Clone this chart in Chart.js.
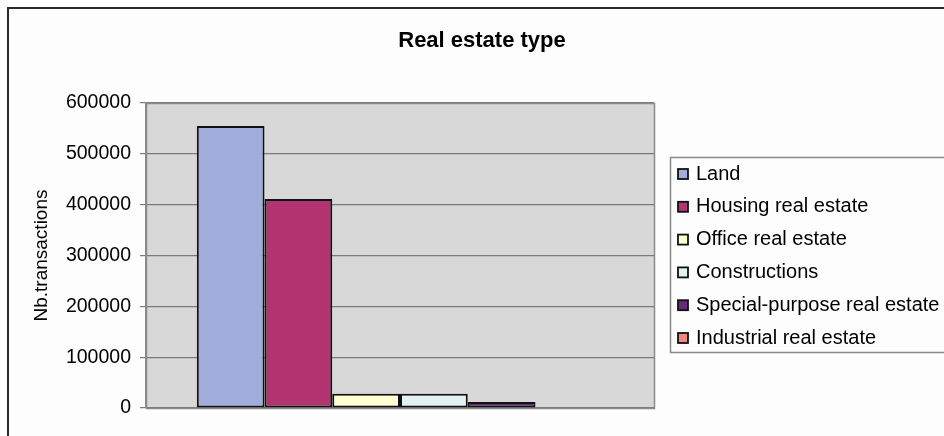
<!DOCTYPE html>
<html>
<head>
<meta charset="utf-8">
<script src="https://cdn.jsdelivr.net/npm/chart.js@4.4.1/dist/chart.umd.min.js"></script>
<style>
html,body{margin:0;padding:0;background:#fdfdfd;}
#wrap{width:944px;height:436px;position:relative;}
</style>
</head>
<body>
<div id="wrap"><canvas id="c" width="944" height="436"></canvas></div>
<script>
const categories = [''];
const seriesNames = ['Land','Housing real estate','Office real estate','Constructions','Special-purpose real estate','Industrial real estate'];
const seriesValues = [555000, 411000, 28000, 28000, 12000, 0];
const seriesColors = ['#A1AEDB','#B23572','#FFFFD2','#E2F2F3','#6A2A7B','#F2877E'];
const yTicks = [0,100000,200000,300000,400000,500000,600000];
const titleText = 'Real estate type';
const yTitle = 'Nb.transactions';

const FONT = '"Liberation Sans", Arial, sans-serif';

const datasets = seriesNames.map((n,i)=>({
  label: n,
  data: [seriesValues[i]],
  backgroundColor: seriesColors[i],
  borderColor: '#111',
  borderWidth: 2,
  borderSkipped: false,
  categoryPercentage: 0.8,
  barPercentage: 1.0
}));

const decor = {
  id: 'decor',
  beforeDraw(chart){
    const ctx = chart.ctx, a = chart.chartArea;
    ctx.save();
    ctx.fillStyle = '#fdfdfd';
    ctx.fillRect(0,0,chart.width,chart.height);
    ctx.fillStyle = '#d8d8d8';
    ctx.fillRect(a.left,a.top,a.right-a.left,a.bottom-a.top);
    ctx.restore();
  },
  afterDraw(chart){
    const ctx = chart.ctx, a = chart.chartArea;
    ctx.save();
    // plot border
    ctx.strokeStyle = '#8a8a8a';
    ctx.lineWidth = 1.5;
    ctx.strokeRect(a.left+0.5,a.top+0.5,a.right-a.left,a.bottom-a.top);
    // outer border
    ctx.strokeStyle = '#2a2a2a';
    ctx.lineWidth = 2;
    ctx.strokeRect(8,8,chart.width,chart.height);
    // title
    ctx.fillStyle = '#000';
    ctx.font = 'bold 22px ' + FONT;
    ctx.textAlign = 'center';
    ctx.textBaseline = 'middle';
    ctx.fillText(titleText, 482, 41);
    // legend box
    const lx = 670, ly = 157, lh = 195;
    ctx.fillStyle = '#fdfdfd';
    ctx.fillRect(lx,ly,chart.width,lh);
    ctx.strokeStyle = '#8a8a8a';
    ctx.lineWidth = 1.5;
    ctx.strokeRect(lx+0.5,ly+0.5,chart.width,lh);
    ctx.font = '20px ' + FONT;
    ctx.textBaseline = 'middle';
    ctx.textAlign = 'left';
    chart.data.datasets.forEach((ds,i)=>{
      const cy = 174 + i*32.8;
      ctx.fillStyle = ds.backgroundColor;
      ctx.fillRect(678,cy-5,10,10);
      ctx.strokeStyle = '#111';
      ctx.lineWidth = 1.8;
      ctx.strokeRect(678,cy-5,10,10);
      ctx.fillStyle = '#000';
      ctx.fillText(ds.label, 696, cy);
    });
    ctx.restore();
  }
};

new Chart(document.getElementById('c'), {
  type: 'bar',
  data: { labels: categories, datasets },
  plugins: [decor],
  options: {
    responsive: false,
    animation: false,
    events: [],
    layout: { padding: { left: 0, right: 290, top: 103, bottom: 0 } },
    plugins: {
      legend: { display: false },
      tooltip: { enabled: false },
      title: { display: false }
    },
    scales: {
      x: {
        grid: { display: false, drawTicks: false },
        border: { display: false },
        ticks: { display: false },
        afterFit(s){ s.height = 28; }
      },
      y: {
        min: 0, max: 600000,
        afterBuildTicks(s){ s.ticks = yTicks.map(v=>({value:v})); },
        ticks: {
          color: '#000',
          font: { family: FONT, size: 19.5 },
          padding: 9,
          callback: v => String(v)
        },
        grid: { color: '#7a7a7a', lineWidth: 1.2, tickLength: 6, drawTicks: true },
        border: { display: true, color: '#8a8a8a', width: 1.5 },
        title: {
          display: true,
          text: yTitle,
          color: '#000',
          font: { family: FONT, size: 19 },
          padding: { top: 30, bottom: 0 }
        },
        afterFit(s){ s.width = 146; }
      }
    }
  }
});
</script>
</body>
</html>
